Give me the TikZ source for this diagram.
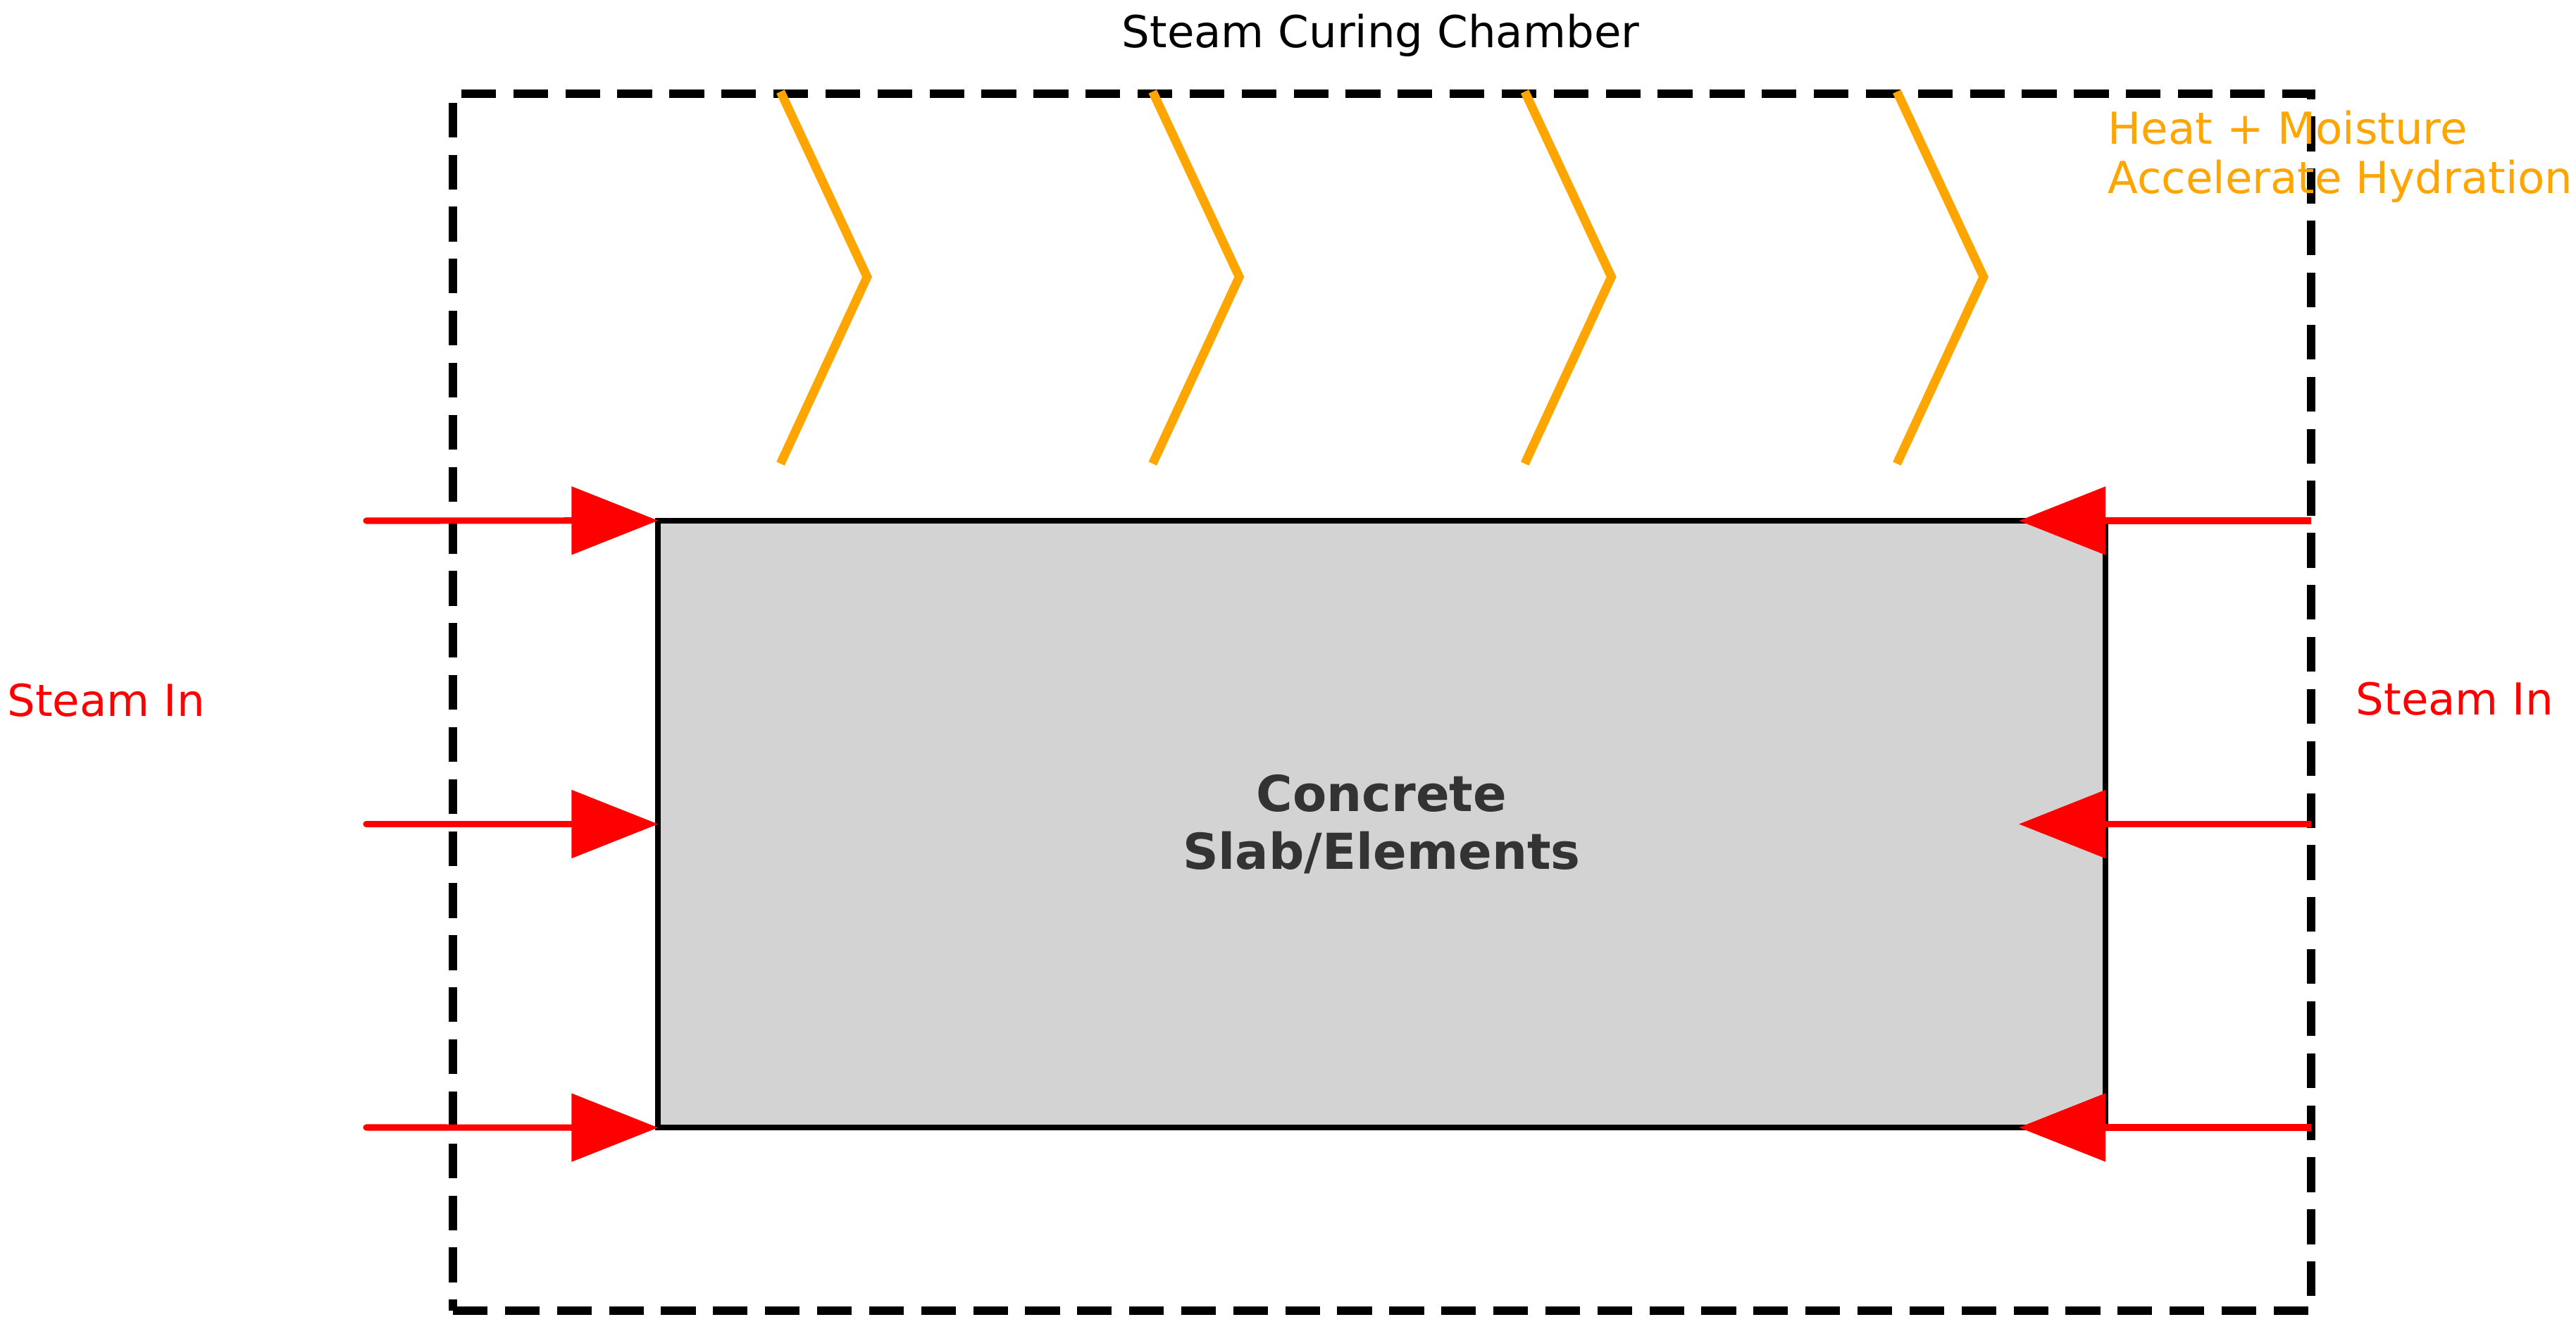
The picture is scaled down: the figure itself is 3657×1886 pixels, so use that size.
\documentclass[tikz,border=0pt]{standalone}
\usepackage{fontspec}
\setmainfont{DejaVu Sans}
\usetikzlibrary{arrows.meta,fit}
\definecolor{steamred}{HTML}{FF0000}
\definecolor{heatorange}{HTML}{FFA500}
\definecolor{slabgray}{HTML}{D3D3D3}
\definecolor{slabtext}{HTML}{333333}
\begin{document}
\begin{tikzpicture}[x=0.01cm,y=-0.01cm,
  chamberbox/.style={draw=black, line width=3.4pt, dash pattern=on 14pt off 7pt, inner sep=0pt, outer sep=0pt},
  slabbox/.style={draw=black, fill=slabgray, line width=2.3pt, inner sep=0pt, outer sep=0pt,
    minimum width=20.53cm, minimum height=8.61cm, text=slabtext,
    font=\bfseries\fontsize{20}{23.3}\selectfont, align=center},
  steamarrow/.style={draw=steamred, line width=2.6pt, line cap=round,
    -{Triangle[length=35pt,width=27pt]}},
  heatline/.style={draw=heatorange, line width=3.6pt},
  lbl/.style={font=\fontsize{17.8}{21}\selectfont, inner sep=0pt, anchor=base west}
]
\useasboundingbox (0,0) rectangle (3657,1886);
% chamber
\coordinate (chNW) at (643,133);
\coordinate (chSE) at (3281,1860);
\node[chamberbox, fit=(chNW)(chSE)] (chamber) {};
\node[lbl, anchor=base, text=black] (title) at (1960,68) {Steam Curing Chamber};
% heat chevrons
\foreach \i in {0,1,2,3}{
  \pgfmathsetmacro{\cx}{1108+528.3*\i}
  \draw[heatline] (\cx,130) -- (\cx+123,393) -- (\cx,658);
}
\node[lbl, text=heatorange] (heatA) at (2992,205) {Heat + Moisture};
\node[lbl, text=heatorange] (heatB) at (2992,275) {Accelerate Hydration};
% slab
\node[slabbox] (slab) at (1961.5,1169.5) {Concrete\\Slab/Elements};
% steam arrows left
\coordinate (lA) at (520,739);
\coordinate (lB) at (520,1169.5);
\coordinate (lC) at (520,1600);
\draw[steamarrow] (lA) -- (slab.north west);
\draw[steamarrow] (lB) -- (slab.west);
\draw[steamarrow] (lC) -- (slab.south west);
% steam arrows right
\coordinate (rA) at (2866,739);
\coordinate (rB) at (2866,1169.5);
\coordinate (rC) at (2866,1600);
\draw[steamarrow, line cap=butt] (chamber.east |- rA) -- (rA);
\draw[steamarrow, line cap=butt] (chamber.east |- rB) -- (rB);
\draw[steamarrow, line cap=butt] (chamber.east |- rC) -- (rC);
\node[lbl, text=steamred] (steamL) at (10,1017) {Steam In};
\node[lbl, text=steamred] (steamR) at (3344,1015) {Steam In};
\end{tikzpicture}
\end{document}
